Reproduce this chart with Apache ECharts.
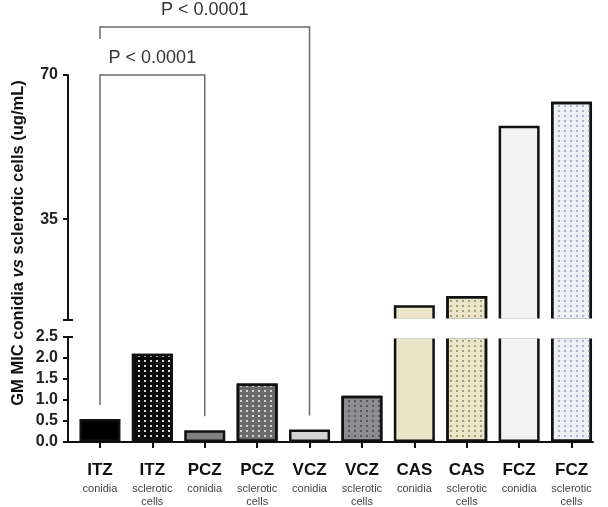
<!DOCTYPE html>
<html>
<head>
<meta charset="utf-8">
<script src="https://cdn.jsdelivr.net/npm/echarts@6/dist/echarts.min.js"></script>
<style>
  html, body { margin: 0; padding: 0; background: #fff; }
  #main { width: 608px; height: 507px; }
</style>
</head>
<body>
<div id="main"></div>
<script>
// data
const drugs = ['ITZ', 'ITZ', 'PCZ', 'PCZ', 'VCZ', 'VCZ', 'CAS', 'CAS', 'FCZ', 'FCZ'];
const cellTypes = ['conidia', 'sclerotic\ncells', 'conidia', 'sclerotic\ncells', 'conidia',
                   'sclerotic\ncells', 'conidia', 'sclerotic\ncells', 'conidia', 'sclerotic\ncells'];
const gmMic = [0.55, 2.1, 0.28, 1.39, 0.3, 1.1, 14.1, 16.3, 57.7, 63.5];
const upperTicks = [35, 70];
const pLabels = ['P < 0.0001', 'P < 0.0001'];

// axis break
const lowerMax = 2.5;
const upperMin = 10.5;
const upperMax = 70;

// fill + dot pattern per bar
const fills = ['#000000', '#0a0a0a', '#7f7f7f', '#6b6b6b', '#d3d3d3', '#8e8e92', '#ebe4c9', '#ece5c8', '#f2f2f2', '#eef0f5'];
const dots = [null, 'rgba(255,255,255,0.85)', null, 'rgba(225,225,225,0.9)', null, '#58585c', null, '#a39c80', null, '#a9b5cc'];

const idx = drugs.map((_, i) => i);
const FONT = 'Liberation Sans, Arial';

function itemStyleFor(i) {
    const s = { color: fills[i], borderColor: '#111', borderWidth: 2.5 };
    if (dots[i]) {
        s.decal = {
            symbol: 'rect',
            symbolSize: 1,
            color: dots[i],
            dashArrayX: [1.3, 3.9],
            dashArrayY: [1.3, 3],
            rotation: 0
        };
    }
    return s;
}

const chart = echarts.init(document.getElementById('main'));

const xBase = { type: 'value', min: -0.61, max: 9.41, splitLine: { show: false } };
const yLabel = { margin: 10, fontSize: 16, fontWeight: 'bold', color: '#222', fontFamily: FONT };

const option = {
    animation: false,
    grid: [
        { left: 68, right: 15, top: 75, height: 245 },   // upper part (above the break)
        { left: 68, right: 15, top: 337, height: 105 }   // lower part 0 - 2.5
    ],
    xAxis: [
        Object.assign({ gridIndex: 0, show: false }, xBase),
        Object.assign({
            gridIndex: 1,
            axisLine: { onZero: false, lineStyle: { color: '#111', width: 2 } },
            axisTick: { customValues: idx, length: 6, lineStyle: { color: '#111', width: 2 } },
            axisLabel: {
                customValues: idx,
                margin: 16,
                formatter: function (v) {
                    const i = Math.round(v);
                    return '{b|' + drugs[i] + '}\n{s|' + cellTypes[i] + '}';
                },
                rich: {
                    b: { fontSize: 17, fontWeight: 'bold', color: '#111', lineHeight: 24, fontFamily: FONT },
                    s: { fontSize: 11, color: '#444', lineHeight: 13, fontFamily: FONT }
                }
            }
        }, xBase)
    ],
    yAxis: [
        {
            gridIndex: 0,
            type: 'value',
            min: upperMin,
            max: upperMax,
            splitLine: { show: false },
            axisLine: { show: true, onZero: false, lineStyle: { color: '#111', width: 2 } },
            axisTick: { show: true, customValues: upperTicks, length: 5, lineStyle: { color: '#111', width: 2 } },
            axisLabel: Object.assign({ customValues: upperTicks }, yLabel)
        },
        {
            gridIndex: 1,
            type: 'value',
            min: 0,
            max: lowerMax,
            interval: 0.5,
            splitLine: { show: false },
            axisLine: { show: true, onZero: false, lineStyle: { color: '#111', width: 2 } },
            axisTick: { show: true, length: 5, lineStyle: { color: '#111', width: 2 } },
            axisLabel: Object.assign({ formatter: v => v.toFixed(1) }, yLabel)
        }
    ],
    series: [
        {
            type: 'bar',
            xAxisIndex: 0,
            yAxisIndex: 0,
            barWidth: 41,
            data: gmMic.map((v, i) => ({ value: [i, v], itemStyle: itemStyleFor(i) })).filter(d => d.value[1] > upperMin)
        },
        {
            type: 'bar',
            xAxisIndex: 1,
            yAxisIndex: 1,
            barWidth: 41,
            data: gmMic.map((v, i) => ({ value: [i, v], itemStyle: itemStyleFor(i) }))
        }
    ]
};

chart.setOption(option);

// annotation layer: axis title, break gap, significance brackets
const px = i => chart.convertToPixel({ xAxisIndex: 1 }, i);
const yLow = v => chart.convertToPixel({ yAxisIndex: 1 }, v);
const yUp = v => chart.convertToPixel({ yAxisIndex: 0 }, v);
const barTop = i => gmMic[i] <= lowerMax ? yLow(gmMic[i]) : yUp(gmMic[i]);

const axisX = chart.convertToPixel({ xAxisIndex: 1 }, -0.61);
const gapTop = yUp(upperMin);
const gapBottom = yLow(lowerMax);

const lineStyle = { stroke: '#6a6a6a', lineWidth: 1.5, fill: null };
const elements = [];

// white band over the tall bars at the break
elements.push({
    type: 'rect', z: 100,
    shape: { x: px(5.5), y: gapTop - 1.5, width: 608 - px(5.5), height: gapBottom - gapTop + 3 },
    style: { fill: '#fff' }
});
// break marks on the y axis
[gapTop, gapBottom].forEach(y => elements.push({
    type: 'line', z: 101,
    shape: { x1: axisX - 5, y1: y, x2: axisX + 5, y2: y },
    style: { stroke: '#111', lineWidth: 2 }
}));

// brackets
const top0 = yUp(upperMax);
const brackets = [
    { from: 0, to: 2, top: top0, leftEnd: barTop(0) - 14 },
    { from: 0, to: 4, top: top0 - 48, leftEnd: top0 - 36 }
];
brackets.forEach((b, k) => {
    const x1 = px(b.from), x2 = px(b.to);
    elements.push({
        type: 'polyline', z: 102,
        shape: { points: [[x1, b.leftEnd], [x1, b.top], [x2, b.top], [x2, barTop(b.to) - 14]] },
        style: lineStyle
    });
    elements.push({
        type: 'text', z: 102,
        x: (x1 + x2) / 2, y: b.top - 8,
        style: {
            text: pLabels[k], fill: '#333', fontSize: 18, fontFamily: FONT,
            align: 'center', verticalAlign: 'bottom', textAlign: 'center', textVerticalAlign: 'bottom'
        }
    });
});

// y axis title spanning both parts
elements.push({
    type: 'text', z: 102,
    x: 18, y: 243, rotation: Math.PI / 2,
    style: {
        text: '{b|GM MIC conidia }{i|vs}{b| sclerotic cells (ug/mL)}',
        align: 'center', verticalAlign: 'middle', textAlign: 'center', textVerticalAlign: 'middle',
        rich: {
            b: { fontSize: 16.5, fontWeight: 'bold', fill: '#111', fontFamily: FONT },
            i: { fontSize: 16.5, fontWeight: 'bold', fontStyle: 'italic', fill: '#111', fontFamily: FONT }
        }
    }
});

chart.setOption({ graphic: { elements: elements } });
</script>
</body>
</html>
